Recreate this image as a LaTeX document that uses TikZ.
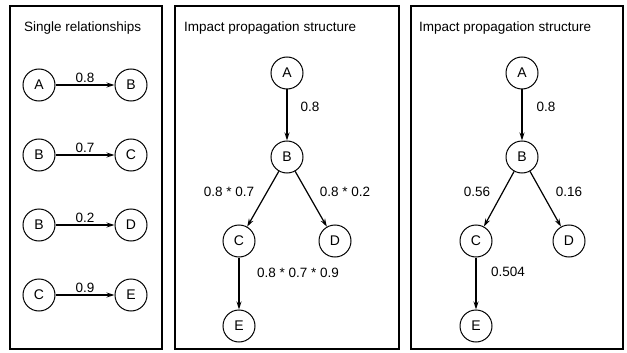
\documentclass[tikz,border=0pt]{standalone}
\usepackage{fontspec}
\setmainfont{Liberation Sans}
\usepackage{tikz, xcolor}
\usetikzlibrary{arrows.meta}

\begin{document}
\begin{tikzpicture}
					[
						x=1pt, y=-1pt,
						panel/.style={black,line width=1.1pt},
						vertex/.style={circle,draw=black,line width=1pt,minimum size=32pt,inner sep=0pt,font=\fontsize{14}{16}\selectfont},
						edge/.style={-{Stealth[length=8pt,width=5pt]},black,line width=1.2pt},
						lab/.style={font=\fontsize{13.5}{16}\selectfont,inner sep=1pt},
						title/.style={anchor=west,font=\fontsize{13.5}{16}\selectfont,inner sep=0pt}
					]
					\useasboundingbox (0,0) rectangle (627,353);
					
					% Draw panels.
					\draw[panel] (10,6) rectangle (162,349);
					\draw[panel] (175,6) rectangle (399,349);
					\draw[panel] (411,6) rectangle (623,349);
					
					% Draw titles.
					\node[title] (t1) at (24,28) {Single relationships};
					\node[title] (t2) at (184,28) {Impact propagation structure};
					\node[title] (t3) at (419,28) {Impact propagation structure};
					
					% Draw single relationships.
					\node[vertex] (sA) at (39,85) {A};
					\node[vertex] (sB) at (131,85) {B};
					\node[vertex] (sB2) at (39,155) {B};
					\node[vertex] (sC) at (131,155) {C};
					\node[vertex] (sB3) at (39,225) {B};
					\node[vertex] (sD) at (131,225) {D};
					\node[vertex] (sC2) at (39,295) {C};
					\node[vertex] (sE) at (131,295) {E};
					\draw[edge] (sA) -- node[lab,above=1pt] {0.8} (sB);
					\draw[edge] (sB2) -- node[lab,above=1pt] {0.7} (sC);
					\draw[edge] (sB3) -- node[lab,above=1pt] {0.2} (sD);
					\draw[edge] (sC2) -- node[lab,above=1pt] {0.9} (sE);
					
					% Draw propagation structure with products.
					\node[vertex] (pA) at (287,73) {A};
					\node[vertex] (pB) at (287,157) {B};
					\node[vertex] (pC) at (239,241) {C};
					\node[vertex] (pD) at (335,241) {D};
					\node[vertex] (pE) at (239,326) {E};
					\draw[edge] (pA) -- (pB);
					\draw[edge] (pB) -- (pC);
					\draw[edge] (pB) -- (pD);
					\draw[edge] (pC) -- (pE);
					\node[lab] (pAB) at (310,107) {0.8};
					\node[lab] (pBC) at (229,192) {0.8 * 0.7};
					\node[lab] (pBD) at (345,192) {0.8 * 0.2};
					\node[lab] (pCE) at (298,273) {0.8 * 0.7 * 0.9};
					
					% Draw propagation structure with values.
					\node[vertex] (vA) at (522,73) {A};
					\node[vertex] (vB) at (522,157) {B};
					\node[vertex] (vC) at (476,241) {C};
					\node[vertex] (vD) at (569,241) {D};
					\node[vertex] (vE) at (476,326) {E};
					\draw[edge] (vA) -- (vB);
					\draw[edge] (vB) -- (vC);
					\draw[edge] (vB) -- (vD);
					\draw[edge] (vC) -- (vE);
					\node[lab] (vAB) at (546,107) {0.8};
					\node[lab] (vBC) at (477,192) {0.56};
					\node[lab] (vBD) at (569,192) {0.16};
					\node[lab] (vCE) at (508,272) {0.504};
				\end{tikzpicture}
\end{document}
